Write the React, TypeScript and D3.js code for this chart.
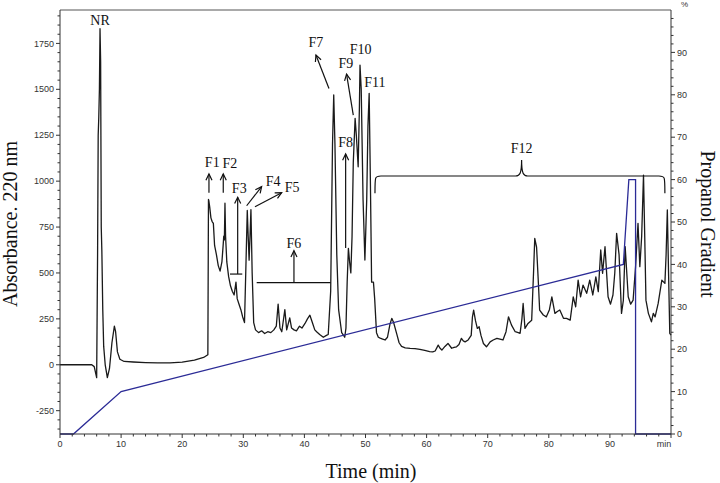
import React from "react";
import * as d3 from "d3";

// ---- Data ----
const traceTime = [0, 5.2, 5.6, 6.0, 6.15, 6.25, 6.35, 6.45, 6.55, 6.65, 6.75, 6.85, 7.0, 7.15, 7.4, 7.75, 8.1, 8.5, 8.9, 9.1, 9.4, 9.8, 10.5, 12, 14, 16, 18, 20, 22, 23.5, 24.2,
  24.3, 24.35, 24.5, 24.7, 24.9, 25.1, 25.3, 25.6, 25.9, 26.2, 26.5, 26.7, 26.8, 26.9, 27.0, 27.1, 27.3, 27.6, 27.9, 28.2, 28.5, 28.8, 29.0, 29.3, 29.6, 29.9, 30.2, 30.4, 30.65, 30.8, 30.95, 31.1, 31.25, 31.45, 31.7,
  32.0, 32.5, 33, 33.5, 34, 34.5, 35, 35.4, 35.7, 36.0, 36.3, 36.8, 37.1, 37.6, 37.9, 38.3, 38.7, 39.2, 39.6, 40.1, 40.5, 40.9, 41.3, 41.7, 42.0, 42.5, 43.1, 43.6, 43.9,
  44.3, 44.6, 44.8, 45.0, 45.3, 45.6, 46.1, 46.6, 46.8, 47.0, 47.2, 47.4, 47.6, 47.8, 48.0, 48.3, 48.5, 48.8, 49.0, 49.1, 49.3, 49.6, 49.9, 50.2, 50.4, 50.6, 50.8, 51.0, 51.3, 51.5, 51.8,
  52.1, 52.4, 52.8, 53.2, 53.6, 54.0, 54.3, 54.6, 55.1, 55.5, 55.9, 56.5, 57.3, 58.1, 58.9, 59.7, 60.5, 61.0, 61.4, 61.9, 62.2, 62.5, 63.0, 63.5, 64.1, 64.5, 64.9, 65.3, 65.7, 66.0, 66.3, 66.8,
  67.3, 67.5, 67.7, 68.0, 68.3, 68.6, 68.9, 69.3, 69.8, 70.4, 70.9, 71.5, 72.0, 72.5, 73.0, 73.4, 73.9, 74.5, 75.0, 75.3, 75.6, 75.8, 76.1, 76.6, 77.2, 77.5, 77.7, 78.0, 78.3, 78.5,
  79.1, 79.6, 80.1, 80.5, 81.0, 81.4, 81.8, 82.4, 82.9, 83.5, 84.0, 84.4, 84.8, 85.2, 85.6, 86.2, 86.7, 87.2, 87.7, 88.1, 88.5, 88.8, 89.2, 89.7, 90.1, 90.5, 90.8, 91.1, 91.5, 91.9,
  92.2, 92.5, 93.0, 93.4, 93.8, 94.2, 94.6, 94.9, 95.2, 95.5, 95.7, 95.9, 96.3, 96.8, 97.1, 97.4, 97.9, 98.5, 99.0, 99.2, 99.4, 99.6, 99.8, 100];
const traceAbs = [0, 0, -10, -70, 600, 1250, 1350, 1500, 1830, 1650, 750, 620, 300, 100, 0, -70, -20, 120, 210, 180, 70, 30, 18, 15, 12, 10, 10, 14, 25, 40, 55,
  900, 895, 860, 800, 780, 770, 650, 600, 540, 510, 560, 650, 700, 680, 880, 700, 560, 480, 430, 400, 380, 450, 360, 330, 300, 260, 230, 500, 840, 700, 570, 700, 845, 500, 230,
  190, 175, 185, 170, 180, 175, 190, 210, 330, 200, 180, 300, 190, 255, 200, 190, 185, 210, 200, 225, 250, 270, 230, 190, 180, 165, 150, 160, 165,
  400, 1200, 1469, 1200, 600, 300, 175, 150, 200, 450, 634, 560, 500, 700, 1100, 1342, 1250, 1078, 1400, 1632, 1500, 900, 570, 900, 1300, 1478, 1000, 450, 450, 360, 175,
  150, 145, 140, 135, 150, 220, 253, 230, 170, 120, 100, 92, 89, 88, 84, 78, 72, 70, 75, 107, 90, 80, 100, 116, 90, 95, 98, 110, 144, 130, 125, 135,
  160, 260, 298, 240, 198, 207, 160, 116, 98, 125, 135, 144, 140, 135, 180, 261, 216, 180, 175, 171, 250, 334, 198, 225, 243, 500, 688, 640, 443, 298,
  271, 261, 300, 370, 280, 290, 298, 253, 253, 243, 370, 316, 461, 370, 434, 389, 461, 380, 479, 398, 625, 498, 643, 370, 330, 380, 500, 716, 600, 280,
  350, 643, 370, 330, 352, 534, 770, 534, 700, 1033, 700, 352, 280, 234, 280, 261, 334, 461, 443, 600, 843, 500, 171, 162];

const gradTime = [0, 2.2, 10, 92.2, 93.1, 94.2, 94.2, 100];
const gradPct = [0, 0, 10, 40, 60, 60, 0, 0];

const xMajorTicks = [0, 10, 20, 30, 40, 50, 60, 70, 80, 90, 100];
const xTickLabels = ["0", "10", "20", "30", "40", "50", "60", "70", "80", "90", "min"];
const leftMajorTicks = [-250, 0, 250, 500, 750, 1000, 1250, 1500, 1750];
const rightMajorTicks = [0, 10, 20, 30, 40, 50, 60, 70, 80, 90];

// annotation labels: [text, time, absorbance]
const labelText = ["NR", "F1", "F2", "F3", "F4", "F5", "F6", "F7", "F8", "F9", "F10", "F11", "F12"];
const labelTime = [6.55, 24.92, 27.82, 29.34, 34.9, 38.0, 38.29, 41.89, 46.75, 46.8, 49.2, 51.55, 75.55];
const labelAbs = [1877, 1106, 1097, 961, 1002, 970, 665, 1759, 1215, 1645, 1720, 1541, 1179];

// arrows: from (t0,a0) to (t1,a1), head at end
const arrowT0 = [24.38, 26.72, 29.08, 30.55, 31.91, 38.29, 44.02, 46.75, 48.0];
const arrowA0 = [937, 937, 494, 866, 861, 447, 1505, 636, 1360];
const arrowT1 = [24.38, 26.72, 29.08, 33.0, 36.28, 38.29, 41.89, 46.75, 46.9];
const arrowA1 = [1039, 1039, 912, 970, 937, 621, 1687, 1148, 1583];

// horizontal range bars: [t0, t1, absorbance]
const barT0 = [27.82, 32.19];
const barT1 = [29.83, 44.3];
const barAbs = [494, 447];

// F12 brace
const braceT = [51.55, 75.55, 99.0];
const braceTopAbs = 1028;
const braceEndAbs = 934;
const bracePeakAbs = 1115;

const W = 720, H = 483;
const serif = "'Liberation Serif', 'Times New Roman', serif";
const sans = "'Liberation Sans', Arial, sans-serif";

export default function App() {
  const x = d3.scaleLinear().domain([0, 100]).range([60, 671]);
  const yL = d3.scaleLinear().domain([-377, 1932]).range([434, 10]);
  const yR = d3.scaleLinear().domain([0, 100]).range([434, 10]);

  const trace = d3.line<number>().x((_, i) => x(traceTime[i])).y((_, i) => yL(traceAbs[i]))(traceTime as any) as string;
  const grad = d3.line<number>().x((_, i) => x(gradTime[i])).y((_, i) => yR(gradPct[i]))(gradTime as any) as string;

  const xMinor = d3.range(0, 101, 2).filter((v) => v % 10 !== 0);
  const lMinor = d3.range(-350, 1901, 50).filter((v) => v % 250 !== 0);
  const rMinor = d3.range(0, 99, 2).filter((v) => v % 10 !== 0);

  const axisColor = "#333";
  const tickFont = { fontFamily: sans, fontSize: 9, fill: "#333" } as any;

  const arrowHead = (x0: number, y0: number, x1: number, y1: number) => {
    const ang = Math.atan2(y1 - y0, x1 - x0);
    const L = 7, a = Math.PI / 7;
    const p1 = [x1 - L * Math.cos(ang - a), y1 - L * Math.sin(ang - a)];
    const p2 = [x1 - L * Math.cos(ang + a), y1 - L * Math.sin(ang + a)];
    return `M${p1[0]},${p1[1]}L${x1},${y1}L${p2[0]},${p2[1]}`;
  };

  const bl = x(braceT[0]), bm = x(braceT[1]), br = x(braceT[2]);
  const byT = yL(braceTopAbs), byE = yL(braceEndAbs), byP = yL(bracePeakAbs);
  const brace = `M${bl},${byE} C${bl},${byT} ${bl},${byT} ${bl + 6},${byT} L${bm - 6},${byT} C${bm - 2},${byT} ${bm},${byT - 2} ${bm},${byP} C${bm},${byT - 2} ${bm + 2},${byT} ${bm + 6},${byT} L${br - 6},${byT} C${br},${byT} ${br},${byT} ${br},${byE}`;

  return (
    <svg width={W} height={H} style={{ position: "absolute", left: 0, top: 0, background: "#fff" }}>
      {/* data */}
      <path d={trace} fill="none" stroke="#1a1a1a" strokeWidth={1.3} strokeLinejoin="round" />
      <path d={grad} fill="none" stroke="#2b2b96" strokeWidth={1.3} />

      {/* frame */}
      <line x1={60} x2={671} y1={10} y2={10} stroke="#555" strokeWidth={1} />
      <line x1={60} x2={60} y1={10} y2={434} stroke={axisColor} />
      <line x1={671} x2={671} y1={10} y2={434} stroke={axisColor} />
      <line x1={60} x2={671} y1={434} y2={434} stroke={axisColor} />

      {/* x axis */}
      {xMajorTicks.map((t, i) => (
        <g key={"xm" + t}>
          <line x1={x(t)} x2={x(t)} y1={434} y2={438} stroke={axisColor} />
          <text x={i === xMajorTicks.length - 1 ? x(t) - 7 : x(t)} y={447} textAnchor="middle" {...tickFont}>{xTickLabels[i]}</text>
        </g>
      ))}
      {xMinor.map((t) => (
        <line key={"xn" + t} x1={x(t)} x2={x(t)} y1={434} y2={436.5} stroke={axisColor} />
      ))}

      {/* left axis */}
      {leftMajorTicks.map((v) => (
        <g key={"lm" + v}>
          <line x1={56} x2={60} y1={yL(v)} y2={yL(v)} stroke={axisColor} />
          <text x={54} y={yL(v)} dy="0.35em" textAnchor="end" {...tickFont}>{v}</text>
        </g>
      ))}
      {lMinor.map((v) => (
        <line key={"ln" + v} x1={57.5} x2={60} y1={yL(v)} y2={yL(v)} stroke={axisColor} />
      ))}

      {/* right axis */}
      {rightMajorTicks.map((v) => (
        <g key={"rm" + v}>
          <line x1={671} x2={675} y1={yR(v)} y2={yR(v)} stroke={axisColor} />
          <text x={677} y={yR(v)} dy="0.35em" textAnchor="start" {...tickFont}>{v}</text>
        </g>
      ))}
      {rMinor.map((v) => (
        <line key={"rn" + v} x1={671} x2={673.5} y1={yR(v)} y2={yR(v)} stroke={axisColor} />
      ))}
      <text x={681} y={7} {...tickFont} fontSize={8}>%</text>

      {/* axis titles */}
      <text transform="translate(17,224) rotate(-90)" textAnchor="middle" fontFamily={serif} fontSize={20} fill="#111">Absorbance. 220 nm</text>
      <text transform="translate(701,224) rotate(90)" textAnchor="middle" fontFamily={serif} fontSize={20} fill="#111">Propanol Gradient</text>
      <text x={371} y={478} textAnchor="middle" fontFamily={serif} fontSize={20} fill="#111">Time (min)</text>

      {/* annotations */}
      {barT0.map((t, i) => (
        <line key={"bar" + i} x1={x(t)} x2={x(barT1[i])} y1={yL(barAbs[i])} y2={yL(barAbs[i])} stroke="#111" strokeWidth={1.2} />
      ))}
      {arrowT0.map((t, i) => {
        const x0 = x(t), y0 = yL(arrowA0[i]), x1 = x(arrowT1[i]), y1 = yL(arrowA1[i]);
        return (
          <g key={"ar" + i} stroke="#111" strokeWidth={1.2} fill="none">
            <line x1={x0} y1={y0} x2={x1} y2={y1} />
            <path d={arrowHead(x0, y0, x1, y1)} />
          </g>
        );
      })}
      <path d={brace} fill="none" stroke="#111" strokeWidth={1.2} />
      {labelText.map((s, i) => (
        <text key={"lab" + s} x={x(labelTime[i])} y={yL(labelAbs[i])} dy="0.35em" textAnchor="middle" fontFamily={serif} fontSize={14} fill="#111">{s}</text>
      ))}
    </svg>
  );
}
